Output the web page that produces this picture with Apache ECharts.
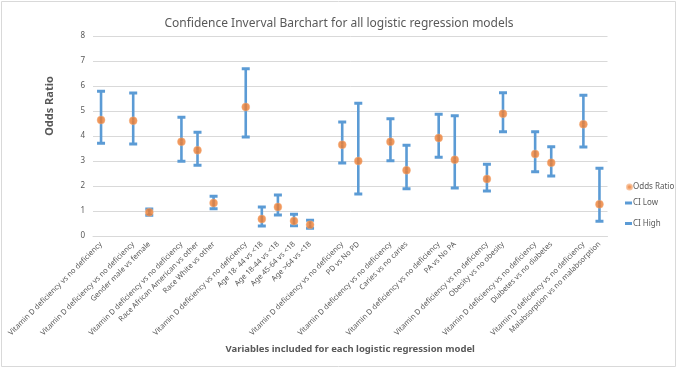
<!DOCTYPE html>
<html>
<head>
<meta charset="utf-8">
<script src="https://cdn.jsdelivr.net/npm/echarts@6/dist/echarts.min.js"></script>
<style>html,body{margin:0;padding:0;background:#fff}#c{width:678px;height:370px}</style>
</head>
<body>
<div id="c"></div>
<script>
const categories = [
  'Vitamin D deficiency vs no deficiency', '',
  'Vitamin D deficiency vs no deficiency', 'Gender male vs female', '',
  'Vitamin D deficiency vs no deficiency', 'Race African American vs other', 'Race White vs other', '',
  'Vitamin D deficiency vs no deficiency', 'Age 18- 44 vs <18', 'Age 18-44 vs <18', 'Age 45-64 vs <18', 'Age >64 vs <18', '',
  'Vitamin D deficiency vs no deficiency', 'PD vs No PD', '',
  'Vitamin D deficiency vs no deficiency', 'Caries vs no caries', '',
  'Vitamin D deficiency vs no deficiency', 'PA vs No PA', '',
  'Vitamin D deficiency vs no deficiency', 'Obesity vs no obesity', '',
  'Vitamin D deficiency vs no deficiency', 'Diabetes vs no diabetes', '',
  'Vitamin D deficiency vs no deficiency', 'Malabsorption vs no malabsorption'
];
const oddsRatio = [4.64, null, 4.61, 0.95, null, 3.77, 3.43, 1.32, null, 5.16, 0.68, 1.16, 0.60, 0.45, null, 3.65, 3.00, null, 3.77, 2.63, null, 3.92, 3.05, null, 2.28, 4.89, null, 3.28, 2.93, null, 4.47, 1.27];
const ciLow = [3.71, null, 3.68, 0.83, null, 2.99, 2.83, 1.09, null, 3.96, 0.40, 0.84, 0.41, 0.31, null, 2.92, 1.68, null, 3.01, 1.89, null, 3.15, 1.92, null, 1.80, 4.17, null, 2.57, 2.40, null, 3.56, 0.59];
const ciHigh = [5.79, null, 5.72, 1.08, null, 4.75, 4.15, 1.59, null, 6.69, 1.16, 1.64, 0.87, 0.63, null, 4.56, 5.31, null, 4.69, 3.63, null, 4.87, 4.81, null, 2.87, 5.73, null, 4.17, 3.57, null, 5.63, 2.71];
const yTicks = [0, 1, 2, 3, 4, 5, 6, 7, 8];

const blue = '#5B9BD5', orange = '#ED7D31', grey = '#595959';
const font = 'Noto Sans, sans-serif';
const lowData = [], highData = [], orData = [];
categories.forEach((c, i) => {
  if (oddsRatio[i] == null) return;
  orData.push([i, oddsRatio[i]]);
  lowData.push([i, ciLow[i], oddsRatio[i]]);
  highData.push([i, ciHigh[i], oddsRatio[i]]);
});
function barRender(params, api) {
  const x = api.value(0);
  const end = api.coord([x, api.value(1)]);
  const start = api.coord([x, api.value(2)]);
  const hw = 4;
  return { type: 'group', children: [
    { type: 'line', shape: { x1: start[0], y1: start[1], x2: end[0], y2: end[1] }, style: { stroke: blue, lineWidth: 2.6 } },
    { type: 'line', shape: { x1: end[0] - hw, y1: end[1], x2: end[0] + hw, y2: end[1] }, style: { stroke: blue, lineWidth: 3 } }
  ]};
}
const chart = echarts.init(document.getElementById('c'));
chart.setOption({
  animation: false,
  textStyle: { fontFamily: font },
  title: { text: 'Confidence Inverval Barchart for all logistic regression models', left: 'center', top: 13,
    textStyle: { fontSize: 12, fontWeight: 'normal', color: grey, fontFamily: font } },
  graphic: [{ type: 'rect', shape: { x: 1.5, y: 1.5, width: 674, height: 365 }, style: { fill: 'none', stroke: '#d9d9d9', lineWidth: 1 }, silent: true }],
  legend: [
    { data: [{ name: 'Odds Ratio', icon: 'circle' }], orient: 'vertical', left: 621, top: 178, itemWidth: 5, itemHeight: 5, itemGap: 6,
      textStyle: { fontSize: 8, color: grey, padding: [0, 0, 0, -4] } },
    { data: [{ name: 'CI Low', icon: 'rect' }, { name: 'CI High', icon: 'rect' }], orient: 'vertical', left: 620, top: 194, itemWidth: 7, itemHeight: 3, itemGap: 12.5,
      textStyle: { fontSize: 8, color: grey, padding: [0, 0, 0, -4] } }
  ],
  grid: { left: 93, right: 70.5, top: 36, bottom: 134, containLabel: false },
  xAxis: {
    type: 'category', data: categories, boundaryGap: true,
    name: 'Variables included for each logistic regression model', nameLocation: 'middle', nameGap: 108,
    nameTextStyle: { fontSize: 9.5, fontWeight: 'bold', color: grey, fontFamily: font },
    axisTick: { show: false },
    axisLine: { lineStyle: { color: '#d9d9d9' } },
    axisLabel: { interval: 0, rotate: 45, fontSize: 7.5, color: grey, margin: 7 }
  },
  yAxis: {
    type: 'value', min: yTicks[0], max: yTicks[yTicks.length - 1], interval: 1,
    name: 'Odds Ratio', nameLocation: 'middle', nameGap: 38, nameRotate: 90,
    nameTextStyle: { fontSize: 11, fontWeight: 'bold', color: grey, padding: [0, 0, 0, 60] },
    axisLine: { show: false }, axisTick: { show: false },
    axisLabel: { fontSize: 8, color: grey, margin: 8 },
    splitLine: { lineStyle: { color: '#d9d9d9' } }
  },
  series: [
    { name: 'Odds Ratio', type: 'scatter', data: orData, symbolSize: 8, z: 5,
      itemStyle: { color: orange, borderColor: '#f6b98f', borderWidth: 0.5 } },
    { name: 'CI Low', type: 'custom', data: lowData, renderItem: barRender, itemStyle: { color: blue }, z: 3 },
    { name: 'CI High', type: 'custom', data: highData, renderItem: barRender, itemStyle: { color: blue }, z: 3 }
  ]
});
</script>
</body>
</html>
